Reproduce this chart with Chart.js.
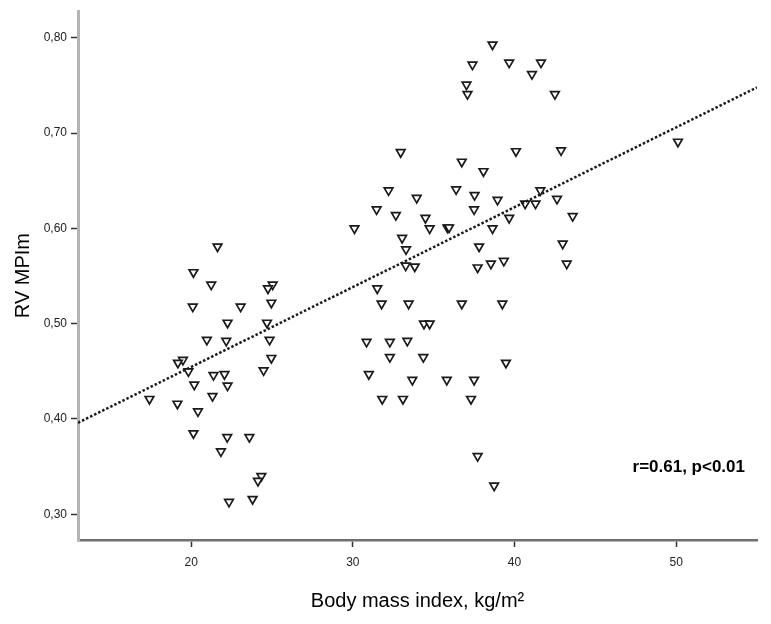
<!DOCTYPE html>
<html>
<head>
<meta charset="utf-8">
<script src="https://cdn.jsdelivr.net/npm/chart.js@4.4.1/dist/chart.umd.min.js"></script>
<style>
  html, body { margin: 0; padding: 0; background: #fff; }
  #wrap { width: 771px; height: 624px; }
</style>
</head>
<body>
<div id="wrap"><canvas id="bmi-chart" width="771" height="624"></canvas></div>
<script>
// BMI (x) and RV MPIm (y)
const bmi = [
    21.63, 20.14, 21.24, 25.04, 24.75, 20.10, 23.06, 24.96, 22.25, 24.69,
    20.97, 22.17, 24.85, 24.96, 19.49, 19.18, 19.83, 24.48, 21.38, 22.06,
    20.19, 22.25, 21.32, 17.42, 19.15, 20.42, 20.14, 22.23, 23.60, 21.84,
    24.34, 24.13, 22.34, 23.80,
    32.96, 40.09, 36.74, 38.08, 32.21, 36.39, 37.53, 41.60, 33.95, 38.95,
    40.66, 41.30, 31.47, 37.50, 32.66, 34.49, 39.67, 30.10, 34.75, 35.85,
    35.95, 38.64, 33.05, 37.81, 33.29, 33.27, 33.83, 37.72, 38.54, 39.34,
    31.51, 31.78, 33.45, 36.74, 39.25, 34.40, 34.75, 30.85, 32.29, 33.37,
    32.29, 34.36, 39.47, 30.99, 33.68, 35.81, 37.50, 31.82, 33.10, 37.31,
    37.72, 38.74, 38.64, 37.40, 39.67, 41.64, 41.08, 37.03, 37.09, 42.50,
    42.88, 42.63, 43.60, 42.98, 43.23, 50.11
];
const mpi = [
    0.581, 0.554, 0.541, 0.541, 0.537, 0.518, 0.518, 0.522, 0.501, 0.501,
    0.483, 0.482, 0.483, 0.464, 0.462, 0.459, 0.450, 0.451, 0.446, 0.447,
    0.436, 0.435, 0.424, 0.421, 0.416, 0.408, 0.385, 0.381, 0.381, 0.366,
    0.340, 0.335, 0.313, 0.316,
    0.680, 0.681, 0.670, 0.660, 0.640, 0.641, 0.635, 0.640, 0.632, 0.630,
    0.626, 0.626, 0.620, 0.620, 0.614, 0.611, 0.611, 0.600, 0.600, 0.601,
    0.601, 0.600, 0.590, 0.581, 0.578, 0.561, 0.560, 0.559, 0.563, 0.566,
    0.537, 0.521, 0.521, 0.521, 0.521, 0.500, 0.500, 0.481, 0.481, 0.482,
    0.465, 0.465, 0.459, 0.447, 0.441, 0.441, 0.441, 0.421, 0.421, 0.421,
    0.361, 0.330, 0.793, 0.772, 0.774, 0.774, 0.762, 0.751, 0.741, 0.741,
    0.682, 0.631, 0.613, 0.584, 0.563, 0.691
];

// fit line end points (at the axis limits)
const fitX = [13.0, 55.0];
const fitY = [0.396, 0.748];

const xTicks = [20, 30, 40, 50];
const yTicks = [0.30, 0.40, 0.50, 0.60, 0.70, 0.80];

const xTitle = 'Body mass index, kg/m\u00B2';
const yTitle = 'RV MPIm';
const statText = 'r=0.61, p<0.01';

const FONT = '"Liberation Sans", Arial, sans-serif';

// axis titles + stat label
const labelsPlugin = {
    id: 'labels',
    afterDraw(chart) {
        const ctx = chart.ctx;
        const area = chart.chartArea;
        ctx.save();
        ctx.fillStyle = '#000';
        ctx.font = '20px ' + FONT;
        ctx.textAlign = 'center';
        ctx.textBaseline = 'middle';
        ctx.fillText(xTitle, (area.left + area.right) / 2, 601);

        ctx.save();
        ctx.translate(23, (area.top + area.bottom) / 2);
        ctx.rotate(-Math.PI / 2);
        ctx.fillText(yTitle, 0, 0);
        ctx.restore();

        ctx.font = 'bold 17px ' + FONT;
        ctx.textAlign = 'right';
        ctx.fillText(statText, 745, 467);
        ctx.restore();
    }
};

const ctx = document.getElementById('bmi-chart').getContext('2d');

new Chart(ctx, {
    data: {
        datasets: [
            {
                type: 'scatter',
                data: bmi.map((x, i) => ({ x: x, y: mpi[i] })),
                pointStyle: 'triangle',
                rotation: 180,
                radius: 5,
                borderColor: '#1a1a1a',
                borderWidth: 1.7,
                backgroundColor: '#fff',
                order: 1
            },
            {
                type: 'line',
                data: fitX.map((x, i) => ({ x: x, y: fitY[i] })),
                borderColor: '#1a1a1a',
                borderWidth: 2.5,
                borderDash: [2.5, 2],
                pointRadius: 0,
                fill: false,
                order: 0
            }
        ]
    },
    options: {
        responsive: false,
        animation: false,
        layout: { padding: { top: 4, right: 14, left: 0, bottom: 0 } },
        plugins: {
            legend: { display: false },
            tooltip: { enabled: false }
        },
        scales: {
            x: {
                type: 'linear',
                min: 13.0,
                max: 55.0,
                afterFit: function (scale) { scale.height = 84; },
                afterBuildTicks: function (scale) {
                    scale.ticks = xTicks.map(v => ({ value: v }));
                },
                grid: {
                    drawOnChartArea: false,
                    drawTicks: true,
                    tickLength: 7,
                    tickColor: '#333',
                    tickWidth: 1.5
                },
                border: { color: '#707070', width: 2.5 },
                ticks: {
                    color: '#222',
                    padding: 8,
                    font: { family: FONT, size: 12 },
                    maxRotation: 0
                }
            },
            y: {
                type: 'linear',
                min: 0.273,
                max: 0.828,
                afterFit: function (scale) { scale.width = 78; },
                afterBuildTicks: function (scale) {
                    scale.ticks = yTicks.map(v => ({ value: v }));
                },
                grid: {
                    drawOnChartArea: false,
                    drawTicks: true,
                    tickLength: 7,
                    tickColor: '#333',
                    tickWidth: 1.5
                },
                border: { color: '#b4b4b4', width: 3 },
                ticks: {
                    color: '#222',
                    padding: 4,
                    font: { family: FONT, size: 12 },
                    callback: function (value) {
                        return value.toFixed(2).replace('.', ',');
                    }
                }
            }
        }
    },
    plugins: [labelsPlugin]
});
</script>
</body>
</html>
